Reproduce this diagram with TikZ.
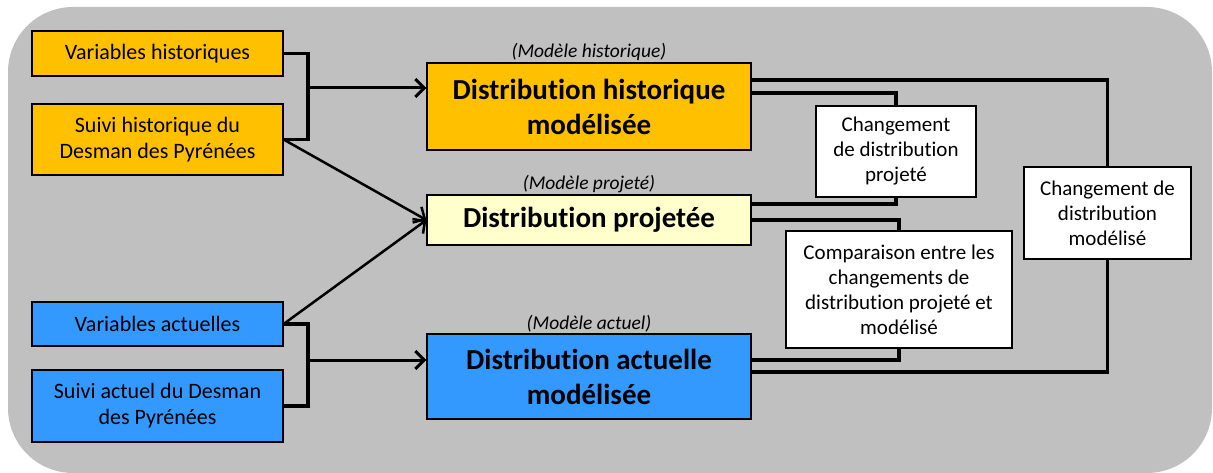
\documentclass[tikz,border=0pt]{standalone}
\usepackage{fontspec}
\setmainfont{Carlito}[Ligatures=NoCommon]
\usetikzlibrary{arrows.meta}

\definecolor{orangehist}{HTML}{FFC000}
\definecolor{jauneproj}{HTML}{FFFFCC}
\definecolor{bleuact}{HTML}{3399FF}
\definecolor{fondgris}{HTML}{C0C0C0}

\begin{document}
\begin{tikzpicture}[
      x=1pt, y=-1pt,
      every node/.style={draw, line width=1.2pt, align=center, inner sep=2pt},
      source/.style={minimum width=251pt, font=\fontsize{22}{26}\selectfont},
      modele/.style={minimum width=324pt, font=\fontsize{29}{35}\selectfont\bfseries},
      resultat/.style={fill=white, font=\fontsize{21}{25}\selectfont},
      titre/.style={draw=none, anchor=south, inner sep=1pt, font=\fontsize{19.5}{22}\selectfont\itshape},
      lien/.style={line width=3.5pt},
      fleche/.style={line width=3pt, -{Straight Barb[length=9pt, width=18pt, line width=3pt]}},
      diag/.style={line width=2.5pt, -{Straight Barb[length=9pt, width=18pt, line width=2.5pt]}}
    ]

    \useasboundingbox (0,0) rectangle (1213,473);
    \fill[fondgris, rounded corners=65pt] (8,7) rectangle (1212,473);

    % donnees d'entree
    \node[source, fill=orangehist, minimum height=45pt] (varhist) at (157.5,53.5) {Variables historiques};
    \node[source, fill=orangehist, minimum height=71pt] (suivihist) at (157.5,139.5) {Suivi historique du\\Desman des Pyrénées};
    \node[source, fill=bleuact, minimum height=44pt] (varact) at (157.5,324) {Variables actuelles};
    \node[source, fill=bleuact, minimum height=72pt] (suiviact) at (157.5,406) {Suivi actuel du Desman\\des Pyrénées};

    % modeles
    \node[modele, fill=orangehist, minimum height=87pt] (disthist) at (589,106.5) {Distribution historique\\modélisée};
    \node[modele, fill=jauneproj, minimum height=50pt] (distproj) at (589,220) {Distribution projetée};
    \node[modele, fill=bleuact, minimum height=85pt] (distact) at (589,376.5) {Distribution actuelle\\modélisée};

    \node[titre] at (disthist.north) {(Modèle historique)};
    \node[titre] at (distproj.north) {(Modèle projeté)};
    \node[titre] at (distact.north) {(Modèle actuel)};

    % changements
    \node[resultat, minimum width=160pt, minimum height=91pt] (chgproj) at (896,151.5) {Changement\\de distribution\\projeté};
    \node[resultat, minimum width=226pt, minimum height=117pt] (comp) at (899,289.5) {Comparaison entre les\\changements de\\distribution projeté et\\modélisé};
    \node[resultat, minimum width=167pt, minimum height=92pt] (chgmod) at (1107.5,213) {Changement de\\distribution\\modélisé};

    \coordinate (jhist) at (308,88);
    \coordinate (jact) at (308,360);

    % liens
    \draw[lien] (varhist.east) -| (jhist) |- (suivihist.east);
    \draw[fleche] (jhist) -- (jhist -| disthist.west);
    \draw[lien] (varact.east) -| (jact) |- (suiviact.east);
    \draw[fleche] (jact) -- (jact -| distact.west);
    \draw[diag] (suivihist.east) -- (distproj.west);
    \draw[diag] (varact.east) -- (distproj.west);

    \draw[lien] ([yshift=26.5pt]disthist.east) -| (chgmod.north);
    \draw[lien] ([yshift=13.5pt]disthist.east) -| (chgproj.north);
    \draw[lien] ([yshift=16pt]distproj.east) -| (chgproj.south);
    \draw[lien] (distproj.east) -| (comp.north);
    \draw[lien] ([yshift=16.5pt]distact.east) -| (comp.south);
    \draw[lien] ([yshift=4.5pt]distact.east) -| (chgmod.south);

  \end{tikzpicture}
\end{document}
